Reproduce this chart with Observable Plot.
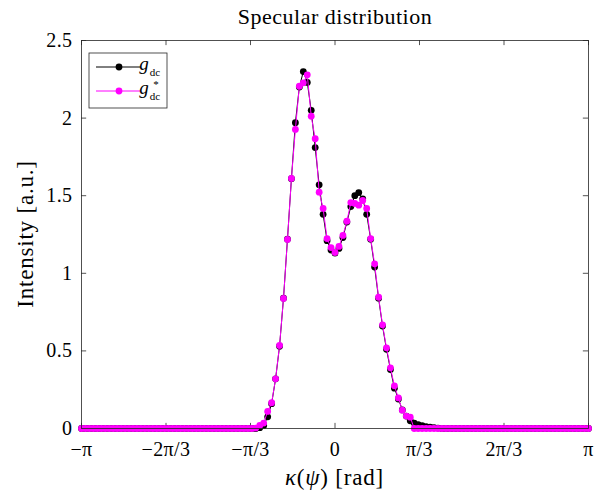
<!DOCTYPE html>
<html>
<head>
<meta charset="utf-8">
<script src="https://cdn.jsdelivr.net/npm/d3@7"></script>
<script src="https://cdn.jsdelivr.net/npm/@observablehq/plot@0.6"></script>
<style>
  html, body { margin: 0; padding: 0; background: #fff; }
  #chart { width: 599px; height: 493px; }
</style>
</head>
<body>
<div id="chart"></div>
<script>
// Sample index k, kappa = k*pi/64, k = -64..64 (129 samples)
const sampleIndex = d3.range(-64, 65);

// g_dc (black)
const gdc = [
  0,0,0,0,0,0,0,0,0,0, 0,0,0,0,0,0,0,0,0,0, 0,0,0,0,0,0,0,0,0,0, 0,0,0,0,0,0,0,0,0,0, 0,0,0,0,
  0, 0.005, 0.02, 0.075, 0.16, 0.32, 0.53, 0.84, 1.22, 1.61,
  1.97, 2.20, 2.30, 2.23, 2.05, 1.81, 1.57, 1.38, 1.21, 1.15,
  1.13,
  1.16, 1.23, 1.33, 1.43, 1.50, 1.52, 1.48, 1.38, 1.22, 1.04,
  0.84, 0.66, 0.51, 0.38, 0.26, 0.19, 0.12, 0.08, 0.05, 0.035,
  0.025, 0.018, 0.012, 0.008, 0.005, 0.003,
  0,0,0,0,0,0,0,0,0,0, 0,0,0,0,0,0,0,0,0,0, 0,0,0,0,0,0,0,0,0,0, 0,0,0,0,0,0,0,0
];

// g*_dc (magenta)
const gdcStar = [
  0,0,0,0,0,0,0,0,0,0, 0,0,0,0,0,0,0,0,0,0, 0,0,0,0,0,0,0,0,0,0, 0,0,0,0,0,0,0,0,0,0, 0,0,0,0,
  0.003, 0.02, 0.035, 0.11, 0.166, 0.32, 0.535, 0.838, 1.218, 1.611,
  1.927, 2.206, 2.227, 2.279, 2.012, 1.867, 1.523, 1.418, 1.224, 1.166,
  1.134,
  1.173, 1.244, 1.336, 1.456, 1.45, 1.439, 1.469, 1.418, 1.224, 1.061,
  0.846, 0.668, 0.52, 0.391, 0.275, 0.197, 0.118, 0.08, 0.073,
  0,0,0,0,0,0,0,0,0,0, 0,0,0,0,0,0,0,0,0,0, 0,0,0,0,0,0,0,0,0,0, 0,0,0,0,0,0,0,0,0,0, 0,0,0,0,0
];

const xTicks = [-Math.PI, -2*Math.PI/3, -Math.PI/3, 0, Math.PI/3, 2*Math.PI/3, Math.PI];
const xTickLabels = ["−π", "−2π/3", "−π/3", "0", "π/3", "2π/3", "π"];
const yTicks = [0, 0.5, 1, 1.5, 2, 2.5];
const yTickLabels = ["0", "0.5", "1", "1.5", "2", "2.5"];
const titleText = "Specular distribution";
const colors = ["#000000", "#ff00ff"];

const kappa = sampleIndex.map(k => k * Math.PI / 64);
const black = kappa.map((x, i) => ({x, y: gdc[i]}));
const magenta = kappa.map((x, i) => ({x, y: gdcStar[i]}));

const axisColor = "#262626";
const font = "'Liberation Serif', 'Times New Roman', serif";

const xLabelOf = d => xTickLabels[xTicks.findIndex(t => Math.abs(t - d) < 1e-9)];
const yLabelOf = d => yTickLabels[yTicks.findIndex(t => Math.abs(t - d) < 1e-9)];

const plot = Plot.plot({
  width: 599,
  height: 493,
  marginLeft: 81,
  marginRight: 11,
  marginTop: 40,
  marginBottom: 65,
  x: {domain: [-Math.PI, Math.PI]},
  y: {domain: [0, 2.5]},
  style: {fontFamily: font, background: "#fff", color: "#000", overflow: "visible"},
  marks: [
    Plot.axisX(xTicks, {tickSize: 0, tickPadding: 13, tickFormat: xLabelOf, fontSize: 20, label: null, fill: "#000"}),
    Plot.axisY(yTicks, {tickSize: 0, tickPadding: 9, tickFormat: yLabelOf, fontSize: 20, label: null, fill: "#000"}),
    // inward ticks (bottom, top, left, right)
    Plot.ruleX(xTicks, {x: d => d, y1: 0, y2: 0.033, stroke: axisColor, strokeWidth: 0.8}),
    Plot.ruleX(xTicks, {x: d => d, y1: 2.5, y2: 2.467, stroke: axisColor, strokeWidth: 0.8}),
    Plot.ruleY(yTicks, {y: d => d, x1: -Math.PI, x2: -Math.PI + 0.064, stroke: axisColor, strokeWidth: 0.8}),
    Plot.ruleY(yTicks, {y: d => d, x1: Math.PI, x2: Math.PI - 0.064, stroke: axisColor, strokeWidth: 0.8}),
    Plot.line(black, {x: "x", y: "y", stroke: colors[0], strokeWidth: 1}),
    Plot.dot(black, {x: "x", y: "y", r: 3.4, fill: colors[0], stroke: "none"}),
    Plot.line(magenta, {x: "x", y: "y", stroke: colors[1], strokeWidth: 1}),
    Plot.dot(magenta, {x: "x", y: "y", r: 3.4, fill: colors[1], stroke: "none"}),
    Plot.frame({stroke: axisColor, strokeWidth: 0.8}),
    Plot.text([titleText], {frameAnchor: "top", dy: -32, fontSize: 22, fill: "#000", text: d => d})
  ]
});

document.getElementById("chart").appendChild(plot);

const svg = d3.select(plot);
// spread glyphs slightly to approximate the wider LaTeX font
svg.selectAll("g[aria-label='x-axis tick label'] text, g[aria-label='y-axis tick label'] text")
  .attr("letter-spacing", "0.4px");
svg.selectAll("g[aria-label='text'] text").attr("letter-spacing", "0.5px");

// Y axis label
svg.append("text")
  .attr("transform", "translate(33,234) rotate(-90)")
  .attr("text-anchor", "middle")
  .attr("font-family", font)
  .attr("font-size", 23)
  .attr("letter-spacing", "0.8px")
  .attr("fill", "#000")
  .text("Intensity [a.u.]");

// X axis label with italic math
const xl = svg.append("text")
  .attr("x", 334.5).attr("y", 485)
  .attr("text-anchor", "middle")
  .attr("font-family", font)
  .attr("font-size", 23)
  .attr("letter-spacing", "0.8px")
  .attr("fill", "#000");
xl.append("tspan").attr("font-style", "italic").text("κ");
xl.append("tspan").text("(");
xl.append("tspan").attr("font-style", "italic").text("ψ");
xl.append("tspan").text(") [rad]");

// Legend
const lg = svg.append("g");
const bx = 89, by = 53, bw = 78, bh = 55;
lg.append("rect").attr("x", bx).attr("y", by).attr("width", bw).attr("height", bh)
  .attr("fill", "#fff").attr("stroke", axisColor).attr("stroke-width", 0.8);
[0, 1].forEach(i => {
  const yy = by + 14 + i * 24;
  lg.append("line").attr("x1", bx + 7).attr("x2", bx + 52).attr("y1", yy).attr("y2", yy)
    .attr("stroke", colors[i]).attr("stroke-width", 1);
  lg.append("circle").attr("cx", bx + 30).attr("cy", yy).attr("r", 3.4).attr("fill", colors[i]);
  const t = lg.append("text").attr("x", bx + 55).attr("y", yy + 3)
    .attr("font-family", font).attr("font-size", 19).attr("fill", "#000");
  t.append("tspan").attr("font-style", "italic").text("g");
  if (i === 1) {
    t.append("tspan").attr("x", bx + 67).attr("y", yy - 3).attr("font-size", 11).text("*");
  }
  t.append("tspan").attr("x", bx + 66).attr("y", yy + 9).attr("font-size", 11).text("dc");
});
</script>
</body>
</html>
